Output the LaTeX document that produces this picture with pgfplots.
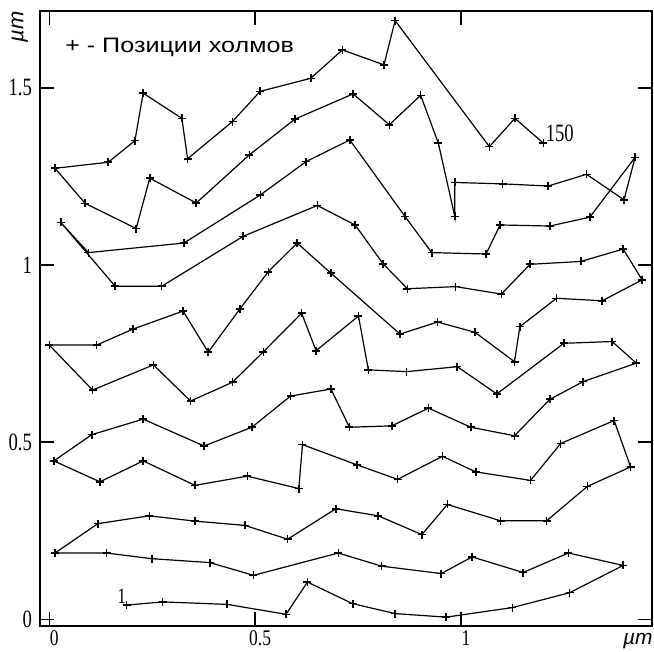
\documentclass[border=0pt]{standalone}
\usepackage{fontspec}
\setmainfont{Liberation Serif}
\newfontfamily\sansf{Liberation Sans}
\usepackage{graphicx}
\usepackage{pgfplots}
\pgfplotsset{compat=1.18}
\newcommand{\tl}[1]{\scalebox{0.75}[1]{\fontsize{25}{25}\selectfont #1}}
\newcommand{\xl}[1]{\scalebox{0.78}[1]{\fontsize{22.5}{22.5}\selectfont #1}}
\begin{document}
\begin{tikzpicture}
\useasboundingbox (-40bp,-26bp) rectangle (614bp,626bp);
\begin{axis}[
  scale only axis, width=612bp, height=615bp,
  xmin=-0.0226, xmax=1.464, ymin=-0.019, ymax=1.717,
  axis line style={line width=1.5bp},
  tick align=inside, major tick length=14bp,
  tick style={line width=1.5bp, black},
  xtick={0,0.5,1}, xticklabels={\xl{0},\xl{0.5},\xl{1}},
  ytick={0,0.5,1,1.5}, yticklabels={\tl{0},\tl{0.5},\tl{1},\tl{1.5}},
  xticklabel style={anchor=north, xshift=5bp, yshift=-1bp},
  yticklabel style={anchor=east, xshift=-4.5bp},
  clip=false,
]
\addplot[black, line width=1.2bp, mark=+, mark size=4bp, mark options={line width=1.6bp}] coordinates {
(0.188,0.040) (0.275,0.049) (0.432,0.042) (0.575,0.014) (0.627,0.105) (0.737,0.044)
(0.840,0.016) (0.964,0.006) (1.125,0.033) (1.264,0.075) (1.394,0.152)
(1.261,0.187) (1.151,0.132) (1.027,0.176) (0.952,0.129) (0.807,0.150) (0.702,0.187)
(0.496,0.124) (0.390,0.160) (0.249,0.171) (0.139,0.187) (0.014,0.187)
(0.118,0.270) (0.243,0.292) (0.354,0.277) (0.475,0.265) (0.579,0.226) (0.696,0.312)
(0.799,0.292) (0.905,0.239) (0.967,0.324) (1.096,0.278) (1.208,0.278) (1.307,0.375)
(1.412,0.430)
(1.372,0.561) (1.242,0.496) (1.169,0.392) (1.036,0.416) (0.955,0.460) (0.846,0.395)
(0.747,0.436) (0.615,0.493) (0.606,0.369) (0.481,0.404) (0.354,0.378) (0.228,0.447)
(0.123,0.388) (0.011,0.447)
(0.103,0.521) (0.228,0.565) (0.376,0.489) (0.492,0.542) (0.586,0.630) (0.684,0.650)
(0.729,0.542) (0.832,0.546) (0.921,0.596) (1.024,0.542) (1.130,0.518) (1.216,0.621)
(1.297,0.671) (1.426,0.723)
(1.367,0.784) (1.250,0.779) (1.087,0.636) (0.991,0.713) (0.868,0.699) (0.775,0.704)
(0.751,0.856) (0.648,0.758) (0.613,0.864) (0.520,0.755) (0.445,0.669) (0.343,0.616)
(0.253,0.718) (0.105,0.647) (0.000,0.774)
(0.115,0.774) (0.203,0.819) (0.325,0.870) (0.386,0.754) (0.463,0.876) (0.532,0.981)
(0.602,1.062) (0.684,0.977) (0.852,0.805) (0.943,0.839) (1.034,0.810) (1.130,0.727)
(1.143,0.826) (1.232,0.906) (1.343,0.899) (1.440,0.958)
(1.394,1.045) (1.291,1.010) (1.168,1.002) (1.098,0.918) (0.987,0.939) (0.870,0.933)
(0.811,1.003) (0.743,1.113) (0.651,1.168) (0.471,1.081) (0.273,0.940) (0.160,0.940)
(0.028,1.120)
(0.095,1.035) (0.327,1.062) (0.513,1.198) (0.624,1.292) (0.730,1.353) (0.864,1.137)
(0.929,1.035) (1.061,1.031) (1.095,1.113) (1.216,1.110) (1.313,1.135) (1.423,1.304)
(1.396,1.184) (1.305,1.256) (1.212,1.223) (1.101,1.229) (0.985,1.233) (0.985,1.137)
(0.945,1.344) (0.902,1.479) (0.826,1.396) (0.738,1.483) (0.597,1.412) (0.486,1.311)
(0.357,1.175) (0.244,1.245) (0.211,1.103) (0.087,1.174) (0.014,1.273) (0.143,1.290)
(0.208,1.351) (0.228,1.485) (0.322,1.414) (0.336,1.300) (0.445,1.405) (0.512,1.490)
(0.635,1.527) (0.712,1.607) (0.813,1.565) (0.840,1.690) (1.069,1.334) (1.131,1.414)
(1.200,1.344)
};
\node[inner sep=0pt] at (axis cs:0.176,0.065) {\scalebox{0.75}[1]{\fontsize{22}{22}\selectfont 1}};
\node[inner sep=0pt] at (axis cs:1.240,1.372) {\tl{150}};
\node[inner sep=0pt, anchor=west] at (rel axis cs:0.041,0.9415) {\sansf\fontsize{21}{21}\selectfont\scalebox{1.2}[1]{+ - Позиции холмов}};
\node[inner sep=0pt, rotate=90] at (rel axis cs:-0.033,0.974) {\sansf\itshape\fontsize{22}{22}\selectfont µm};
\node[inner sep=0pt] at (rel axis cs:0.977,-0.024) {\sansf\itshape\fontsize{21}{21}\selectfont µm};
\end{axis}
\end{tikzpicture}
\end{document}
